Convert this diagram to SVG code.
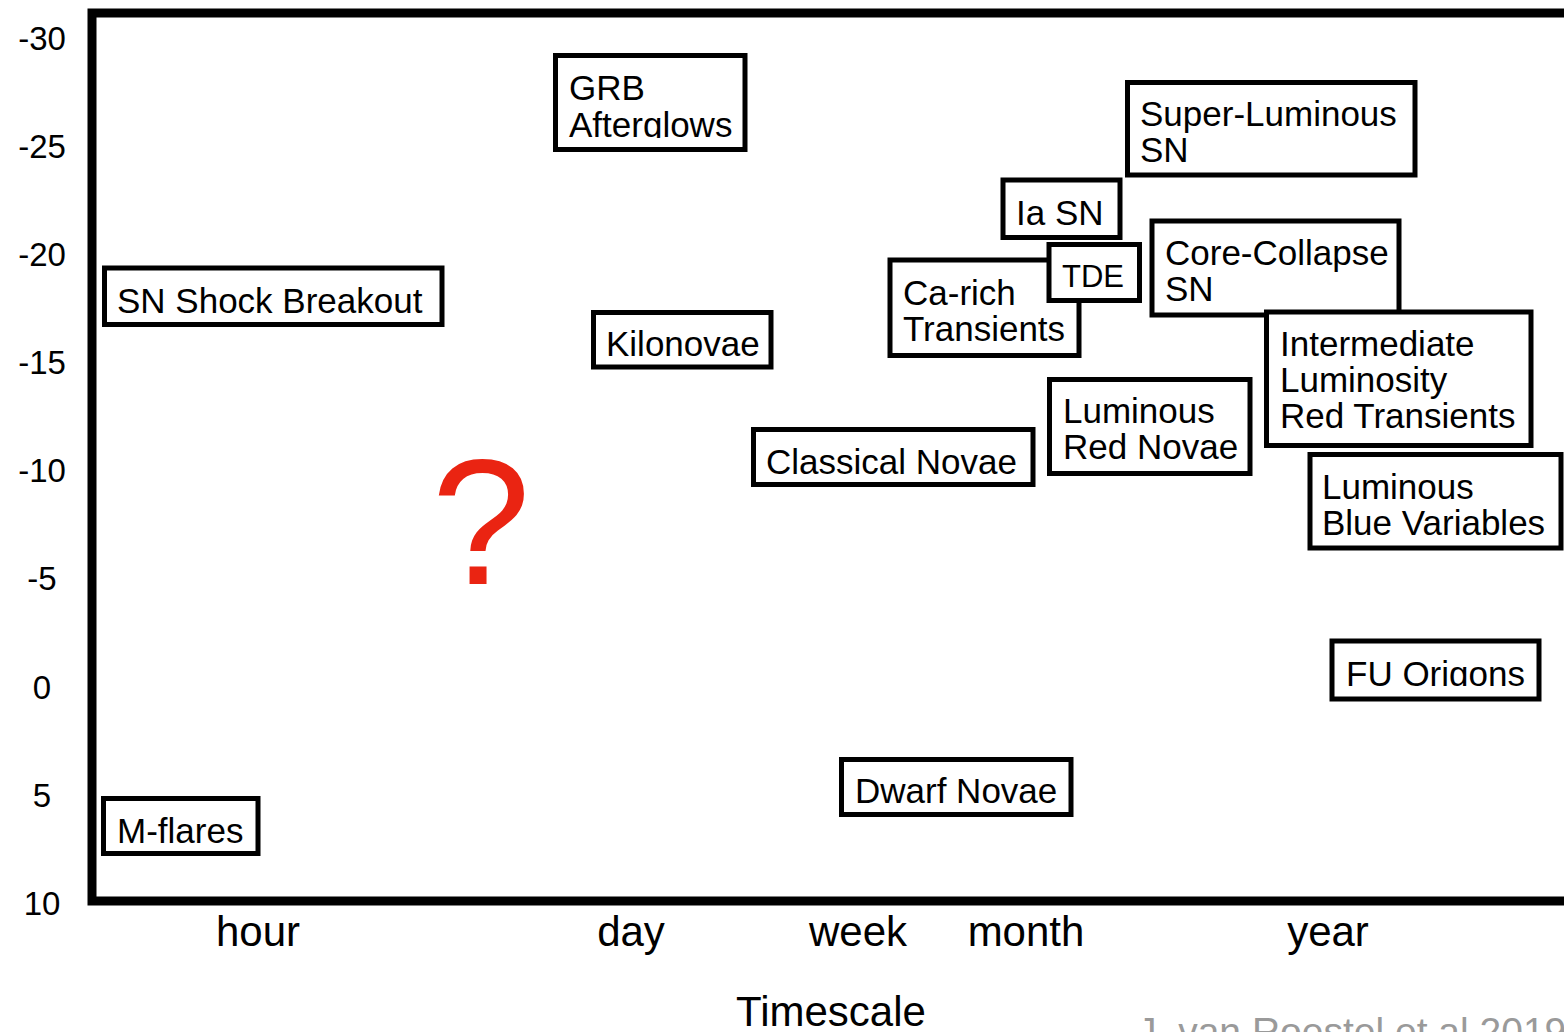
<svg xmlns="http://www.w3.org/2000/svg" width="1564" height="1032" viewBox="0 0 1564 1032">
<style>
text{font-family:"Liberation Sans",Arial,Helvetica,sans-serif;fill:#000}
.box{fill:#fff;stroke:#000;stroke-width:5}
.lbl{font-size:35px}
.ax{font-size:33px;text-anchor:middle}
.tk{font-size:42px;text-anchor:middle}
</style>
<defs>
<clipPath id="clipGrb"><rect x="556" y="56" width="188" height="82"/></clipPath>
<clipPath id="clipFu"><rect x="1334" y="643" width="203" height="43"/></clipPath>
</defs>
<rect width="1564" height="1032" fill="#fff"/>
<g id="frame">
<path d="M1570,13 H92 V901 H1570" fill="none" stroke="#000" stroke-width="9"/>
</g>
<g id="y-axis">
<text class="ax" x="42" y="50">-30</text>
<text class="ax" x="42" y="158">-25</text>
<text class="ax" x="42" y="266">-20</text>
<text class="ax" x="42" y="374">-15</text>
<text class="ax" x="42" y="482">-10</text>
<text class="ax" x="42" y="590">-5</text>
<text class="ax" x="42" y="699">0</text>
<text class="ax" x="42" y="807">5</text>
<text class="ax" x="42" y="915">10</text>
</g>
<g id="x-axis">
<text class="tk" x="258" y="946">hour</text>
<text class="tk" x="631" y="946">day</text>
<text class="tk" x="858" y="946">week</text>
<text class="tk" x="1026" y="946">month</text>
<text class="tk" x="1328" y="946">year</text>
<text class="tk" x="831" y="1026">Timescale</text>
</g>
<g id="connectors"></g>
<g id="question">
<text x="481" y="584" font-size="178" text-anchor="middle" style="fill:#ea2412">?</text>
</g>
<g id="grb">
<rect class="box" x="555.5" y="55.5" width="189.5" height="94"/>
<g clip-path="url(#clipGrb)">
<text class="lbl" x="569" y="100">GRB</text>
<text class="lbl" x="569" y="137">Afterglows</text>
</g>
</g>
<g id="slsn">
<rect class="box" x="1127.5" y="82.5" width="287.5" height="92.5"/>
<text class="lbl" x="1140" y="126">Super-Luminous</text>
<text class="lbl" x="1140" y="162">SN</text>
</g>
<g id="ia-sn">
<rect class="box" x="1003" y="180" width="117" height="57.5"/>
<text class="lbl" x="1016" y="225">Ia SN</text>
</g>
<g id="ca-rich">
<rect class="box" x="890" y="260" width="189" height="95.5"/>
<text class="lbl" x="903" y="305">Ca-rich</text>
<text class="lbl" x="903" y="341">Transients</text>
</g>
<g id="tde">
<rect class="box" x="1049" y="244.5" width="90.5" height="56"/>
<text x="1062" y="287" font-size="31">TDE</text>
</g>
<g id="core-collapse">
<rect class="box" x="1152" y="221" width="247" height="94"/>
<text class="lbl" x="1165" y="265">Core-Collapse</text>
<text class="lbl" x="1165" y="301">SN</text>
</g>
<g id="ilrt">
<rect class="box" x="1266.5" y="312" width="264.5" height="133.5"/>
<text class="lbl" x="1280" y="356">Intermediate</text>
<text class="lbl" x="1280" y="392">Luminosity</text>
<text class="lbl" x="1280" y="428">Red Transients</text>
</g>
<g id="lbv">
<rect class="box" x="1310" y="454.5" width="251" height="93.5"/>
<text class="lbl" x="1322" y="499">Luminous</text>
<text class="lbl" x="1322" y="535">Blue Variables</text>
</g>
<g id="fu-ori">
<rect class="box" x="1332" y="641" width="207" height="58"/>
<g clip-path="url(#clipFu)">
<text class="lbl" x="1346" y="686">FU Origons</text>
</g>
</g>
<g id="sn-shock">
<rect class="box" x="104.5" y="268" width="337.5" height="56.5"/>
<text class="lbl" x="117" y="313">SN Shock Breakout</text>
</g>
<g id="kilonovae">
<rect class="box" x="593.5" y="312.5" width="177.5" height="54.5"/>
<text class="lbl" x="606" y="356">Kilonovae</text>
</g>
<g id="classical-novae">
<rect class="box" x="753.5" y="429.5" width="279.5" height="55"/>
<text class="lbl" x="766" y="474">Classical Novae</text>
</g>
<g id="lrn">
<rect class="box" x="1049.5" y="379.5" width="200.5" height="94"/>
<text class="lbl" x="1063" y="423">Luminous</text>
<text class="lbl" x="1063" y="459">Red Novae</text>
</g>
<g id="dwarf-novae">
<rect class="box" x="841.5" y="759.5" width="229.5" height="55"/>
<text class="lbl" x="855" y="803">Dwarf Novae</text>
</g>
<g id="m-flares">
<rect class="box" x="103.5" y="798.5" width="154.5" height="55"/>
<text class="lbl" x="117" y="843">M-flares</text>
</g>
<g id="credit">
<text x="1137" y="1045" font-size="39" style="fill:#9a9a9a">J. van Roestel et al 2019</text>
</g>
</svg>
